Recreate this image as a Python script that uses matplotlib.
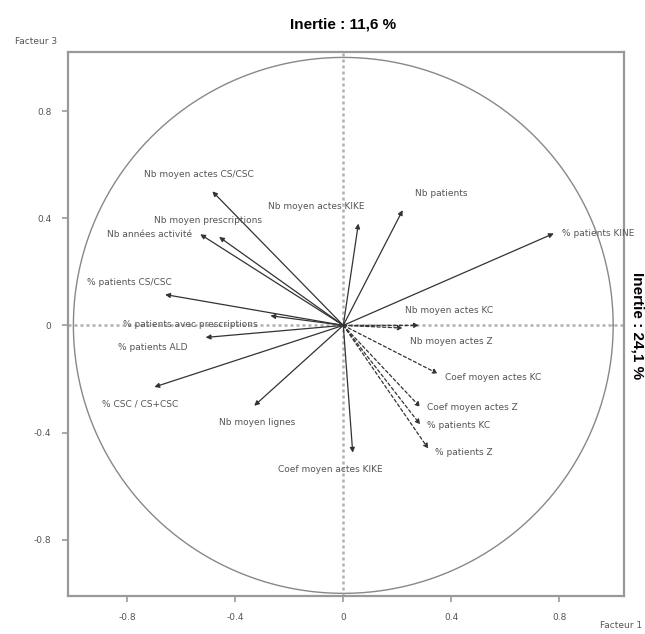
import numpy as np
import matplotlib.pyplot as plt

# coordonnées des variables sur les facteurs 1 et 3
labels = [
    "Nb moyen actes CS/CSC", "Nb moyen prescriptions", "Nb années activité",
    "% patients CS/CSC", "% patients avec prescriptions", "% patients ALD",
    "% CSC / CS+CSC", "Nb moyen lignes", "Coef moyen actes KIKE",
    "Nb moyen actes KIKE", "Nb patients", "% patients KINE",
    "Nb moyen actes KC", "Nb moyen actes Z", "Coef moyen actes KC",
    "Coef moyen actes Z", "% patients KC", "% patients Z",
]
f1 = [-0.485, -0.46, -0.53, -0.66, -0.27, -0.51, -0.70, -0.33, 0.035,
      0.056, 0.22, 0.78, 0.28, 0.22, 0.35, 0.285, 0.285, 0.315]
f3 = [0.50, 0.33, 0.34, 0.115, 0.036, -0.045, -0.23, -0.30, -0.475,
      0.38, 0.43, 0.343, 0.0, -0.01, -0.18, -0.305, -0.37, -0.46]
dashed = [False] * 12 + [True] * 6

# position des libellés (offset en points) et alignement
label_pos = [
    ((-10, 12), "center"), ((-8, 12), "center"), ((-6, 0), "right"),
    ((-26, 9), "center"), ((-58, -6), "center"), ((-38, -7), "center"),
    ((-10, -12), "center"), ((2, -12), "center"), ((-16, -12), "center"),
    ((-30, 12), "center"), ((28, 12), "center"), ((6, 0), "left"),
    ((22, 11), "center"), ((35, -10), "center"), ((5, -3), "left"),
    ((5, 0), "left"), ((5, -1), "left"), ((5, -3), "left"),
]

grey = "#555555"

fig = plt.figure(figsize=(6.45, 6.34), dpi=100)
ax = fig.add_axes([0.1054, 0.0599, 0.862, 0.858])
ax.set_xlim(-1.02, 1.04)
ax.set_ylim(-1.01, 1.02)

for s in ax.spines.values():
    s.set_color("#999999")
    s.set_linewidth(1.6)

t = np.linspace(0, 2 * np.pi, 400)
ax.plot(np.cos(t), np.sin(t), color="#888888", lw=1.0)
ax.axhline(0, color="#b0b0b0", lw=1.8, ls=(0, (1.2, 1.2)))
ax.axvline(0, color="#b0b0b0", lw=1.8, ls=(0, (1.2, 1.2)))

for lab, x, y, d, (off, ha) in zip(labels, f1, f3, dashed, label_pos):
    ax.annotate("", xy=(x, y), xytext=(0, 0),
                arrowprops=dict(arrowstyle="-|>", color="#333333", lw=0.9,
                                ls=(0, (2.5, 2)) if d else "-",
                                mutation_scale=7, shrinkA=0, shrinkB=0))
    ax.annotate(lab, xy=(x, y), xytext=off, textcoords="offset points",
                ha=ha, va="center", fontsize=6.5, color=grey)

ax.set_xticks([-0.8, -0.4, 0, 0.4, 0.8])
ax.set_yticks([-0.8, -0.4, 0, 0.4, 0.8])
ax.set_xticklabels(["-0.8", "-0.4", "0", "0.4", "0.8"])
ax.set_yticklabels(["-0.8", "-0.4", "0", "0.4", "0.8"])
ax.tick_params(labelsize=6.5, labelcolor=grey, color="#999999",
               length=4, width=1.2, pad=8)

fig.text(0.532, 0.962, "Inertie : 11,6 %", ha="center", va="center",
         fontsize=11, fontweight="bold", family="Liberation Sans")
fig.text(0.988, 0.487, "Inertie : 24,1 %", ha="center", va="center",
         rotation=-90, fontsize=11, fontweight="bold", family="Liberation Sans")
fig.text(0.056, 0.934, "Facteur 3", ha="center", va="center",
         fontsize=6.5, color=grey)
fig.text(0.963, 0.014, "Facteur 1", ha="center", va="center",
         fontsize=6.5, color=grey)

fig.savefig("out.png", dpi=100)
